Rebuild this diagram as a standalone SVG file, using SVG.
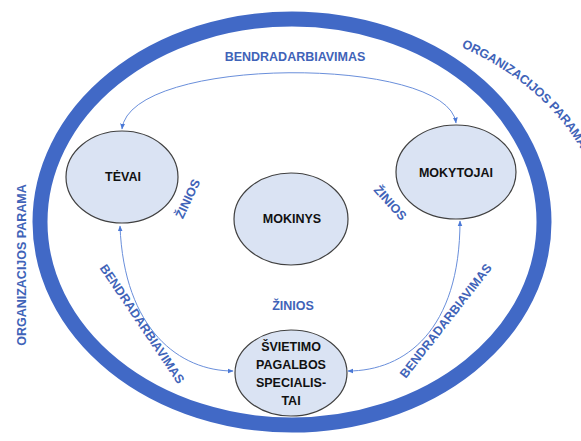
<svg xmlns="http://www.w3.org/2000/svg" width="581" height="441" viewBox="0 0 581 441">
<style>
.node{fill:#DAE3F3;stroke:#404040;stroke-width:1.2}
.nt{font-family:"Liberation Sans",Arial,sans-serif;font-weight:bold;font-size:12.5px;fill:#111;text-anchor:middle;dominant-baseline:central}
.lb{font-family:"Liberation Sans",Arial,sans-serif;font-weight:bold;font-size:12.5px;fill:#3F63B8;text-anchor:middle;dominant-baseline:central}
.con{fill:none;stroke:#6A8FDB;stroke-width:1}
</style>
<defs>
<marker id="ah" viewBox="0 0 10 10" refX="9" refY="5" markerWidth="6" markerHeight="6" orient="auto-start-reverse" markerUnits="userSpaceOnUse">
<path d="M0,1 L10,5 L0,9 z" fill="#4A78D6"/>
</marker>
<path id="arcR" d="M 450,38 A 292 227 0 0 1 610,230"/>
</defs>
<rect width="581" height="441" fill="#fff"/>
<g id="ring">
<ellipse cx="292" cy="222" rx="252" ry="203" fill="none" stroke="#4169C6" stroke-width="15"/>
</g>
<g id="connectors">
<path class="con" d="M122,129 C130,55 448,55 456,123" marker-start="url(#ah)" marker-end="url(#ah)"/>
<path class="con" d="M120,226 C124,330 180,371 233,371" marker-start="url(#ah)" marker-end="url(#ah)"/>
<path class="con" d="M348,371 C405,371 460,330 460,221" marker-start="url(#ah)" marker-end="url(#ah)"/>
</g>
<g id="tevai">
<ellipse class="node" cx="122" cy="177" rx="56" ry="46"/>
<text class="nt" x="123" y="177">TĖVAI</text>
</g>
<g id="mokinys">
<ellipse class="node" cx="291" cy="219" rx="57" ry="46"/>
<text class="nt" x="292" y="219">MOKINYS</text>
</g>
<g id="mokytojai">
<ellipse class="node" cx="456" cy="172" rx="60" ry="47"/>
<text class="nt" x="456" y="173">MOKYTOJAI</text>
</g>
<g id="svietimo">
<ellipse class="node" cx="291" cy="373" rx="56" ry="43"/>
<text class="nt" x="291" y="347">ŠVIETIMO</text>
<text class="nt" x="291" y="365">PAGALBOS</text>
<text class="nt" x="291" y="383">SPECIALIS-</text>
<text class="nt" x="291" y="401">TAI</text>
</g>
<g id="labels">
<text class="lb" x="295" y="57">BENDRADARBIAVIMAS</text>
<text class="lb" transform="translate(142,324) rotate(56)">BENDRADARBIAVIMAS</text>
<text class="lb" transform="translate(446,321) rotate(-52)">BENDRADARBIAVIMAS</text>
<text class="lb" transform="translate(188,199) rotate(-65)">ŽINIOS</text>
<text class="lb" transform="translate(390,203) rotate(48)">ŽINIOS</text>
<text class="lb" x="293" y="306">ŽINIOS</text>
<text class="lb" transform="translate(22,265) rotate(-90)">ORGANIZACIJOS PARAMA</text>
<text class="lb" style="text-anchor:start"><textPath href="#arcR" startOffset="14">ORGANIZACIJOS PARAMA</textPath></text>
</g>
</svg>
